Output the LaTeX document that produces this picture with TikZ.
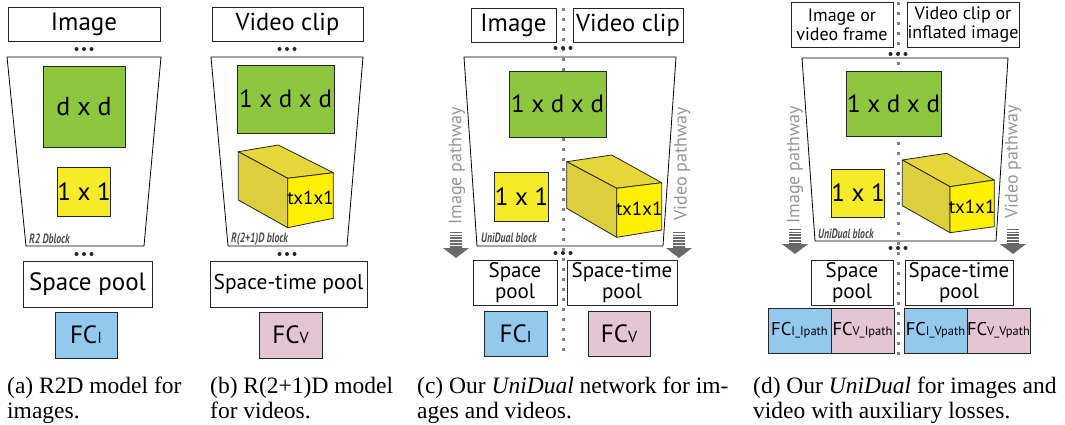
\documentclass[tikz,border=0pt]{standalone}
\usepackage{fontspec}
\setmainfont{Liberation Serif}
\newfontfamily\dfont{PT Sans}
\definecolor{cgreen}{RGB}{141,198,63}
\definecolor{cyellow}{RGB}{245,235,40}
\definecolor{cfront}{RGB}{255,240,0}
\definecolor{ctop}{RGB}{230,214,58}
\definecolor{cleft}{RGB}{221,206,62}
\definecolor{cblue}{RGB}{146,201,236}
\definecolor{cpink}{RGB}{228,197,212}
\definecolor{cpath}{RGB}{150,150,150}
\definecolor{carrow}{RGB}{105,105,105}
\definecolor{cdots}{RGB}{130,130,130}
\newcommand\fs[1]{\dfont\fontsize{#1}{#1}\selectfont}
\newcommand\myblocklabel[1]{\scalebox{0.72}[1]{\dfont\fontsize{13.5}{13.5}\selectfont\bfseries\itshape #1}}
\newcommand\myfc[2]{{\fontsize{25}{25}\selectfont FC}{\fontsize{16}{16}\selectfont #1}}
\newcommand\myfcs[1]{{\fontsize{18.5}{18.5}\selectfont FC}{\fontsize{12.5}{12.5}\selectfont #1}}
\tikzset{
  box/.style={draw=black!85, line width=0.9pt, inner sep=0pt, align=center},
  whitebox/.style={box, fill=white},
  greenbox/.style={box, fill=cgreen},
  yellowbox/.style={box, fill=cyellow},
  bluebox/.style={box, fill=cblue},
  pinkbox/.style={box, fill=cpink},
  trap/.style={draw=black, line width=0.8pt},
  face/.style={draw=black!85, line width=0.8pt, line join=round},
  divider/.style={draw=cdots, line width=3pt, dash pattern=on 3pt off 7pt},
  pathtext/.style={text=cpath, rotate=90, font=\fs{18}, inner sep=0pt},
  blocklabel/.style={text=black!70, anchor=west, inner sep=0pt},
  caption/.style={anchor=base west, inner sep=0pt, font=\fontsize{23.5}{25}\selectfont},
  twoline/.style={font=\dfont\fontsize{21}{20.5}\selectfont},
}
% three dots
\newcommand\mydots[3]{%
  \node[inner sep=0pt, minimum size=0pt] (#1) at (#2,#3) {};
  \fill[black!85] (#2-7.5,#3) circle (2) (#2,#3) circle (2) (#2+7.5,#3) circle (2);}
% gray pathway arrow: x, top, bottom
\newcommand\myarrow[3]{%
  \foreach \k/\w in {0/0.8,3/1.0,6/1.2,9/1.5,12/1.8}{
    \draw[carrow, line width=\w pt] (#1-6,#2+\k) -- (#1+6,#2+\k);}
  \fill[carrow] (#1-6,#2+14) -- (#1+6,#2+14) -- (#1+6,#3-10) -- (#1+13,#3-10)
     -- (#1,#3) -- (#1-13,#3-10) -- (#1-6,#3-10) -- cycle;}
% cuboid: name, A, B, C, D, E, F, G
\newcommand\mycuboid[8]{%
  \filldraw[face, fill=ctop] #2 -- #3 -- #4 -- #5 -- cycle;
  \filldraw[face, fill=cleft] #2 -- #5 -- #7 -- #6 -- cycle;
  \filldraw[face, fill=cfront] #5 -- #4 -- #8 -- #7 -- cycle;
  \path #5 -- #8 coordinate[pos=0.5] (#1c);
  \node[inner sep=0pt, font=\fs{19}] (#1) at (#1c) {tx1x1};}

\begin{document}
\begin{tikzpicture}[x=1pt, y=-1pt]
\useasboundingbox (0,0) rectangle (1065,425);

%================ (a)
\node[whitebox, minimum width=152pt, minimum height=34pt, font=\fs{25}] (aimg) at (84,24) {Image};
\mydots{adt1}{84}{49}
\draw[trap] (7,57) -- (161,57) -- (144,246) -- (26,246) -- cycle;
\node[greenbox, minimum width=82pt, minimum height=81pt, font=\fs{26}] (agreen) at (84,106.5) {d x d};
\node[yellowbox, minimum width=50pt, minimum height=49pt, font=\fs{25}] (ayel) at (84,191.5) {1 x 1};
\node[blocklabel] (alab) at (29,239) {\myblocklabel{R2 Dblock}};
\mydots{adt2}{84}{254}
\node[whitebox, minimum width=129pt, minimum height=46pt, font=\fs{25}] (apool) at (87.5,284) {Space pool};
\node[bluebox, minimum width=62pt, minimum height=46pt, font=\dfont] (afc) at (86,335) {\myfc{I}{}};
\node[caption] (acap1) at (7,393) {(a) R2D model for};
\node[caption] (acap2) at (7,418) {images.};

%================ (b)
\node[whitebox, minimum width=151pt, minimum height=34pt, font=\fs{24.5}] (bvid) at (287.5,24) {Video clip};
\mydots{bdt1}{287}{49}
\draw[trap] (211,57) -- (363,57) -- (347,246) -- (228,246) -- cycle;
\node[greenbox, minimum width=97pt, minimum height=68pt, font=\fs{25}] (bgreen) at (285.5,99) {1 x d x d};
\mycuboid{bcub}{(238.3,151.7)}{(278.3,145)}{(333.3,172.7)}{(287.7,178.3)}{(238.3,200)}{(287.7,227.7)}{(333.3,218.3)}
\node[blocklabel] (blab) at (231,239) {\myblocklabel{R(2+1)D block}};
\mydots{bdt2}{287}{254}
\node[whitebox, minimum width=157pt, minimum height=46pt, font=\fs{21.5}] (bpool) at (288.5,284) {Space-time pool};
\node[pinkbox, minimum width=63pt, minimum height=46pt, font=\dfont] (bfc) at (290.5,335) {\myfc{V}{}};
\node[caption] (bcap1) at (210,393) {(b) R(2+1)D model};
\node[caption] (bcap2) at (210,418) {for videos.};

%================ (c)
\coordinate (ctop) at (563,8);
\coordinate (cbot) at (563,358);
\draw[divider] (ctop) -- (cbot);
\node[whitebox, minimum width=85pt, minimum height=34pt, font=\fs{25}] (cimg) at (513.5,25) {Image};
\node[whitebox, minimum width=110pt, minimum height=34pt, font=\fs{24.5}] (cvid) at (628,25) {Video clip};
\mydots{cdt1}{563}{48}
\draw[trap] (464,57) -- (676,57) -- (663,246) -- (477,246) -- cycle;
\node[greenbox, minimum width=97pt, minimum height=66pt, font=\fs{25}] (cgreen) at (557.5,104) {1 x d x d};
\node[yellowbox, minimum width=49pt, minimum height=49pt, font=\fs{25}] (cyel) at (521.5,196.5) {1 x 1};
\mycuboid{ccub}{(566.7,161.7)}{(611.7,155)}{(661.7,182.7)}{(616.7,188.3)}{(566.7,208.3)}{(616.7,237.3)}{(661.7,230)}
\node[blocklabel] (clab) at (481,238) {\myblocklabel{UniDual block}};
\node[pathtext] (cip) at (457,166) {Image pathway};
\node[pathtext] (cvp) at (682,164) {Video pathway};
\myarrow{456}{232}{258}
\myarrow{679}{232}{258}
\mydots{cdt2}{563}{253}
\node[whitebox, twoline, minimum width=84pt, minimum height=45pt] (cspool) at (515,282.5) {Space\\pool};
\node[whitebox, twoline, minimum width=110pt, minimum height=45pt] (ctpool) at (622,282.5) {Space-time\\pool};
\node[bluebox, minimum width=63pt, minimum height=45pt, font=\dfont] (cfci) at (515.5,333.5) {\myfc{I}{}};
\node[pinkbox, minimum width=62pt, minimum height=45pt, font=\dfont] (cfcv) at (619,333.5) {\myfc{V}{}};
\node[caption] (ccap1) at (417,393) {(c) Our \textit{UniDual} network for im-};
\node[caption] (ccap2) at (417,418) {ages and videos.};

%================ (d)
\coordinate (dtop) at (898,2);
\coordinate (dbot) at (898,358);
\draw[divider] (dtop) -- (dbot);
\node[whitebox, minimum width=102pt, minimum height=45pt, font=\fs{18}] (dimg) at (842,24.5) {Image or\\[1pt]video frame};
\node[whitebox, minimum width=112pt, minimum height=45pt, font=\fs{18}] (dvid) at (963,24.5) {Video clip or\\[1pt]inflated image};
\mydots{ddt1}{898}{54}
\draw[trap] (802,58) -- (1008,58) -- (996,241) -- (815,241) -- cycle;
\node[greenbox, minimum width=95pt, minimum height=65pt, font=\fs{25}] (dgreen) at (893.5,103.5) {1 x d x d};
\node[yellowbox, minimum width=48pt, minimum height=48pt, font=\fs{25}] (dyel) at (858,193) {1 x 1};
\mycuboid{dcub}{(902.3,160)}{(946.7,153.3)}{(994.3,180)}{(950,186.7)}{(902.3,205.7)}{(950,232.7)}{(994.3,226.7)}
\node[blocklabel] (dlab) at (818,234) {\myblocklabel{UniDual block}};
\node[pathtext] (dip) at (795,165) {Image pathway};
\node[pathtext] (dvp) at (1013,162) {Video pathway};
\myarrow{795}{229}{254}
\myarrow{1013}{229}{254}
\mydots{ddt2}{898}{248}
\node[whitebox, twoline, minimum width=82pt, minimum height=45pt] (dspool) at (852,282.5) {Space\\pool};
\node[whitebox, twoline, minimum width=108pt, minimum height=45pt] (dtpool) at (959,282.5) {Space-time\\pool};
\node[bluebox, minimum width=63pt, minimum height=45pt, font=\dfont] (dfc1) at (799.5,330.5) {\myfcs{I\_Ipath}};
\node[pinkbox, minimum width=63pt, minimum height=45pt, font=\dfont] (dfc2) at (862.5,330.5) {\myfcs{V\_Ipath}};
\node[bluebox, minimum width=63pt, minimum height=45pt, font=\dfont] (dfc3) at (935.5,330.5) {\myfcs{I\_Vpath}};
\node[pinkbox, minimum width=63pt, minimum height=45pt, font=\dfont] (dfc4) at (998.5,330.5) {\myfcs{V\_Vpath}};
\node[caption] (dcap1) at (753,393) {(d) Our \textit{UniDual} for images and};
\node[caption] (dcap2) at (753,418) {video with auxiliary losses.};
\end{tikzpicture}
\end{document}
